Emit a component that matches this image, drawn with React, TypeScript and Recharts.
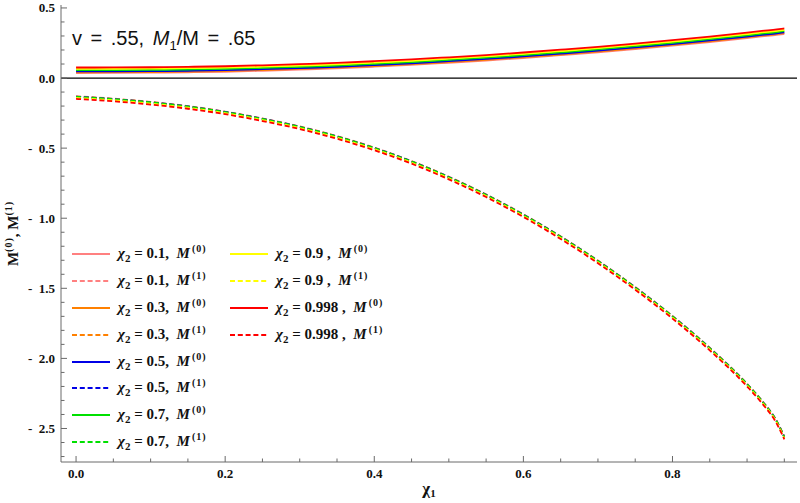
import React from 'react';
import { LineChart, Line, XAxis, YAxis, ReferenceLine, Legend, Label } from 'recharts';

// chi_1 sample points
const chiValues = [0, 0.05, 0.1, 0.15, 0.2, 0.25, 0.3, 0.35, 0.4, 0.45, 0.5, 0.55, 0.6, 0.65, 0.7, 0.75, 0.8, 0.85, 0.9, 0.92, 0.94, 0.95];

// M^(0) (solid) per chi_2
const m0Chi01 = [0.036, 0.0365, 0.038, 0.041, 0.045, 0.052, 0.060, 0.069, 0.081, 0.094, 0.109, 0.125, 0.143, 0.163, 0.184, 0.207, 0.231, 0.257, 0.285, 0.297, 0.308, 0.315];
const m0Chi03 = [0.041, 0.0415, 0.043, 0.046, 0.050, 0.057, 0.065, 0.074, 0.086, 0.099, 0.114, 0.130, 0.148, 0.168, 0.189, 0.212, 0.236, 0.262, 0.290, 0.302, 0.313, 0.320];
const m0Chi05 = [0.047, 0.0475, 0.049, 0.052, 0.056, 0.063, 0.071, 0.080, 0.092, 0.105, 0.120, 0.136, 0.154, 0.174, 0.195, 0.218, 0.242, 0.268, 0.296, 0.308, 0.319, 0.326];
const m0Chi07 = [0.056, 0.0565, 0.058, 0.061, 0.065, 0.072, 0.080, 0.089, 0.101, 0.114, 0.129, 0.145, 0.163, 0.183, 0.204, 0.227, 0.251, 0.277, 0.305, 0.317, 0.328, 0.335];
const m0Chi09 = [0.065, 0.0655, 0.067, 0.070, 0.074, 0.081, 0.089, 0.098, 0.110, 0.123, 0.138, 0.154, 0.172, 0.192, 0.213, 0.236, 0.260, 0.286, 0.314, 0.326, 0.337, 0.344];
const m0Chi0998 = [0.075, 0.0755, 0.077, 0.080, 0.084, 0.091, 0.099, 0.108, 0.120, 0.133, 0.148, 0.164, 0.182, 0.202, 0.223, 0.246, 0.270, 0.296, 0.324, 0.336, 0.347, 0.354];

// M^(1) (dashed) per chi_2
const m1Chi01 = [-0.130, -0.147, -0.170, -0.200, -0.239, -0.288, -0.345, -0.414, -0.496, -0.592, -0.704, -0.830, -0.972, -1.129, -1.302, -1.491, -1.697, -1.924, -2.181, -2.301, -2.448, -2.558];
const m1Chi03 = [-0.132, -0.149, -0.172, -0.202, -0.241, -0.290, -0.347, -0.416, -0.498, -0.594, -0.706, -0.832, -0.974, -1.131, -1.304, -1.493, -1.699, -1.926, -2.183, -2.303, -2.450, -2.560];
const m1Chi05 = [-0.133, -0.150, -0.173, -0.203, -0.242, -0.291, -0.348, -0.417, -0.499, -0.595, -0.707, -0.833, -0.975, -1.132, -1.305, -1.494, -1.700, -1.927, -2.184, -2.304, -2.451, -2.561];
const m1Chi07 = [-0.134, -0.151, -0.174, -0.204, -0.243, -0.292, -0.349, -0.418, -0.500, -0.596, -0.708, -0.834, -0.976, -1.133, -1.306, -1.495, -1.701, -1.928, -2.185, -2.305, -2.452, -2.562];
const m1Chi09 = [-0.142, -0.159, -0.182, -0.212, -0.251, -0.300, -0.357, -0.426, -0.508, -0.604, -0.716, -0.842, -0.984, -1.141, -1.314, -1.503, -1.709, -1.936, -2.193, -2.313, -2.460, -2.570];
const m1Chi0998 = [-0.149, -0.166, -0.189, -0.219, -0.258, -0.307, -0.364, -0.433, -0.515, -0.611, -0.723, -0.849, -0.991, -1.148, -1.321, -1.510, -1.716, -1.943, -2.200, -2.320, -2.467, -2.577];

// tick values
const xTicks = [0, 0.05, 0.1, 0.15, 0.2, 0.25, 0.3, 0.35, 0.4, 0.45, 0.5, 0.55, 0.6, 0.65, 0.7, 0.75, 0.8, 0.85, 0.9, 0.95];
const yTicks = [-2.7, -2.6, -2.5, -2.4, -2.3, -2.2, -2.1, -2.0, -1.9, -1.8, -1.7, -1.6, -1.5, -1.4, -1.3, -1.2, -1.1, -1.0, -0.9, -0.8, -0.7, -0.6, -0.5, -0.4, -0.3, -0.2, -0.1, 0, 0.1, 0.2, 0.3, 0.4, 0.5];

const SERIES = [
  { key: 'a0', chi2: '0.1', comma: ',', sup: '0', color: '#ff8080', dashed: false, values: m0Chi01 },
  { key: 'a1', chi2: '0.1', comma: ',', sup: '1', color: '#ff8080', dashed: true, values: m1Chi01 },
  { key: 'b0', chi2: '0.3', comma: ',', sup: '0', color: '#ff8000', dashed: false, values: m0Chi03 },
  { key: 'b1', chi2: '0.3', comma: ',', sup: '1', color: '#ff8000', dashed: true, values: m1Chi03 },
  { key: 'c0', chi2: '0.5', comma: ',', sup: '0', color: '#0000e6', dashed: false, values: m0Chi05 },
  { key: 'c1', chi2: '0.5', comma: ',', sup: '1', color: '#0000e6', dashed: true, values: m1Chi05 },
  { key: 'd0', chi2: '0.7', comma: ',', sup: '0', color: '#00e000', dashed: false, values: m0Chi07 },
  { key: 'd1', chi2: '0.7', comma: ',', sup: '1', color: '#00e000', dashed: true, values: m1Chi07 },
  { key: 'e0', chi2: '0.9', comma: ' ,', sup: '0', color: '#ffff00', dashed: false, values: m0Chi09 },
  { key: 'e1', chi2: '0.9', comma: ' ,', sup: '1', color: '#ffff00', dashed: true, values: m1Chi09 },
  { key: 'f0', chi2: '0.998', comma: ' ,', sup: '0', color: '#ff0000', dashed: false, values: m0Chi0998 },
  { key: 'f1', chi2: '0.998', comma: ' ,', sup: '1', color: '#ff0000', dashed: true, values: m1Chi0998 },
];

const data = chiValues.map((x, i) => {
  const row: Record<string, number> = { x };
  SERIES.forEach((s) => {
    row[s.key] = s.values[i];
  });
  return row;
});

const SERIF = '"Liberation Serif", "Times New Roman", serif';
const SANS = '"Liberation Sans", Arial, sans-serif';
const FRAME = '#6a6a6a';
const X_DOMAIN: [number, number] = [-0.0202, 0.967];
const Y_DOMAIN: [number, number] = [-2.739, 0.521];

const isMajor = (v: number, step: number) => Math.abs(v / step - Math.round(v / step)) < 1e-6;
const fmtY = (v: number) => (Math.abs(v) < 1e-9 ? '0.0' : v < 0 ? '-\u2002' + Math.abs(v).toFixed(1) : v.toFixed(1));

const BottomTick = (props: any) => {
  const { x, y, payload } = props;
  const major = isMajor(payload.value, 0.2);
  return (
    <g>
      <line x1={x} x2={x} y1={y} y2={y - (major ? 6 : 3.5)} stroke={FRAME} strokeWidth={1} />
      {major && (
        <text x={x} y={y + 16} textAnchor="middle" fontFamily={SERIF} fontWeight="bold" fontSize={13} fill="#111">
          {payload.value.toFixed(1)}
        </text>
      )}
    </g>
  );
};

const TopTick = (props: any) => {
  const { x, y, payload } = props;
  const major = isMajor(payload.value, 0.2);
  return <line x1={x} x2={x} y1={y} y2={y + (major ? 6 : 3.5)} stroke={FRAME} strokeWidth={1} />;
};

const LeftTick = (props: any) => {
  const { x, y, payload } = props;
  const major = isMajor(payload.value, 0.5);
  return (
    <g>
      <line x1={x} x2={x + (major ? 6 : 3.5)} y1={y} y2={y} stroke={FRAME} strokeWidth={1} />
      {major && (
        <text x={x - 6} y={y + 4.5} textAnchor="end" fontFamily={SERIF} fontWeight="bold" fontSize={13} fill="#111">
          {fmtY(payload.value)}
        </text>
      )}
    </g>
  );
};

const RightTick = (props: any) => {
  const { x, y, payload } = props;
  const major = isMajor(payload.value, 0.5);
  return <line x1={x} x2={x - (major ? 6 : 3.5)} y1={y} y2={y} stroke={FRAME} strokeWidth={1} />;
};

const YTitle = (props: any) => {
  const vb = props.viewBox || { x: 0, y: 5, width: 61, height: 457 };
  const cx = vb.x + 13;
  const cy = vb.y + vb.height / 2;
  return (
    <text
      x={cx}
      y={cy + 5}
      transform={`rotate(-90 ${cx} ${cy})`}
      textAnchor="middle"
      fontFamily={SERIF}
      fontWeight="bold"
      fontSize={15}
      fill="#111"
    >
      M<tspan dy={-6} fontSize={10} letterSpacing={1}>(0)</tspan>
      <tspan dy={6}>, M</tspan>
      <tspan dy={-6} fontSize={10} letterSpacing={1}>(1)</tspan>
    </text>
  );
};

const XTitle = (props: any) => {
  const vb = props.viewBox || { x: 61, y: 462, width: 736, height: 41 };
  const cx = vb.x + vb.width / 2;
  return (
    <text x={cx} y={vb.y + 32} textAnchor="middle" fontFamily={SERIF} fontWeight="bold" fontSize={17} fill="#111">
      χ<tspan dy={3} fontSize={11}>1</tspan>
    </text>
  );
};

const LegendItem = ({ s }: { s: (typeof SERIES)[number] }) => (
  <div style={{ display: 'flex', alignItems: 'center', height: 26.9 }}>
    <svg width={38} height={4} style={{ marginRight: 8, flex: 'none' }}>
      <line
        x1={0}
        y1={2}
        x2={38}
        y2={2}
        stroke={s.color}
        strokeWidth={2}
        strokeDasharray={s.dashed ? '5 2.8' : undefined}
      />
    </svg>
    <span style={{ fontFamily: SERIF, fontWeight: 'bold', fontSize: 15, whiteSpace: 'pre', color: '#111', lineHeight: '15px' }}>
      <span style={{ fontStyle: 'italic' }}>χ</span>
      <span style={{ fontSize: 11, position: 'relative', top: 4 }}>2</span>
      {' = '}
      {s.chi2}
      {s.comma + '\u2002'}
      <span style={{ fontStyle: 'italic' }}>M</span>
      <span style={{ fontSize: 10, position: 'relative', top: -6, marginLeft: 2, letterSpacing: 1 }}>({s.sup})</span>
    </span>
  </div>
);

const LegendContent = () => {
  const col1 = SERIES.slice(0, 8);
  const col2 = SERIES.slice(8);
  return (
    <div style={{ display: 'flex' }}>
      <div style={{ width: 158 }}>
        {col1.map((s) => (
          <LegendItem key={s.key} s={s} />
        ))}
      </div>
      <div style={{ width: 170 }}>
        {col2.map((s) => (
          <LegendItem key={s.key} s={s} />
        ))}
      </div>
    </div>
  );
};

export default function App() {
  return (
    <div style={{ position: 'relative', width: 800, height: 503, background: '#fff' }}>
      <style>{'body{margin:0;background:#fff}'}</style>
      <LineChart width={800} height={503} data={data} margin={{ top: 5, right: 3, bottom: 0, left: 0 }}>
        <XAxis
          dataKey="x"
          type="number"
          domain={X_DOMAIN}
          allowDataOverflow
          ticks={xTicks}
          interval={0}
          tickSize={0}
          tickMargin={0}
          tickLine={false}
          tick={<BottomTick />}
          axisLine={{ stroke: FRAME, strokeWidth: 1 }}
          height={41}
        >
          <Label content={<XTitle />} />
        </XAxis>
        <XAxis
          xAxisId="top"
          orientation="top"
          dataKey="x"
          type="number"
          domain={X_DOMAIN}
          allowDataOverflow
          ticks={xTicks}
          interval={0}
          tickSize={0}
          tickMargin={0}
          tickLine={false}
          tick={<TopTick />}
          axisLine={{ stroke: FRAME, strokeWidth: 1 }}
          height={0}
        />
        <YAxis
          type="number"
          domain={Y_DOMAIN}
          allowDataOverflow
          ticks={yTicks}
          interval={0}
          tickSize={0}
          tickMargin={0}
          tickLine={false}
          tick={<LeftTick />}
          axisLine={{ stroke: FRAME, strokeWidth: 1 }}
          width={61}
        >
          <Label content={<YTitle />} />
        </YAxis>
        <YAxis
          yAxisId="right"
          orientation="right"
          type="number"
          domain={Y_DOMAIN}
          allowDataOverflow
          ticks={yTicks}
          interval={0}
          tickSize={0}
          tickMargin={0}
          tickLine={false}
          tick={<RightTick />}
          axisLine={{ stroke: FRAME, strokeWidth: 1 }}
          width={0}
        />
        <ReferenceLine y={0} stroke="#000" strokeWidth={1.2} />
        {SERIES.map((s) => (
          <Line
            key={s.key}
            dataKey={s.key}
            name={s.key}
            type="monotone"
            stroke={s.color}
            strokeWidth={1.8}
            strokeDasharray={s.dashed ? '5 2.8' : undefined}
            dot={false}
            activeDot={false}
            isAnimationActive={false}
          />
        ))}
        <Legend
          layout="vertical"
          align="center"
          verticalAlign="middle"
          content={<LegendContent />}
          wrapperStyle={{ left: 72, top: 240.5, width: 340, right: 'auto', bottom: 'auto' }}
        />
      </LineChart>
      <div
        style={{
          position: 'absolute',
          left: 72,
          top: 28,
          fontFamily: SANS,
          fontSize: 20,
          lineHeight: '20px',
          color: '#111',
          whiteSpace: 'pre',
          wordSpacing: 3,
        }}
      >
        {'v = .55, '}
        <span style={{ fontStyle: 'italic' }}>M</span>
        <span style={{ fontSize: 13, position: 'relative', top: 5 }}>1</span>
        {'/M = .65'}
      </div>
    </div>
  );
}
